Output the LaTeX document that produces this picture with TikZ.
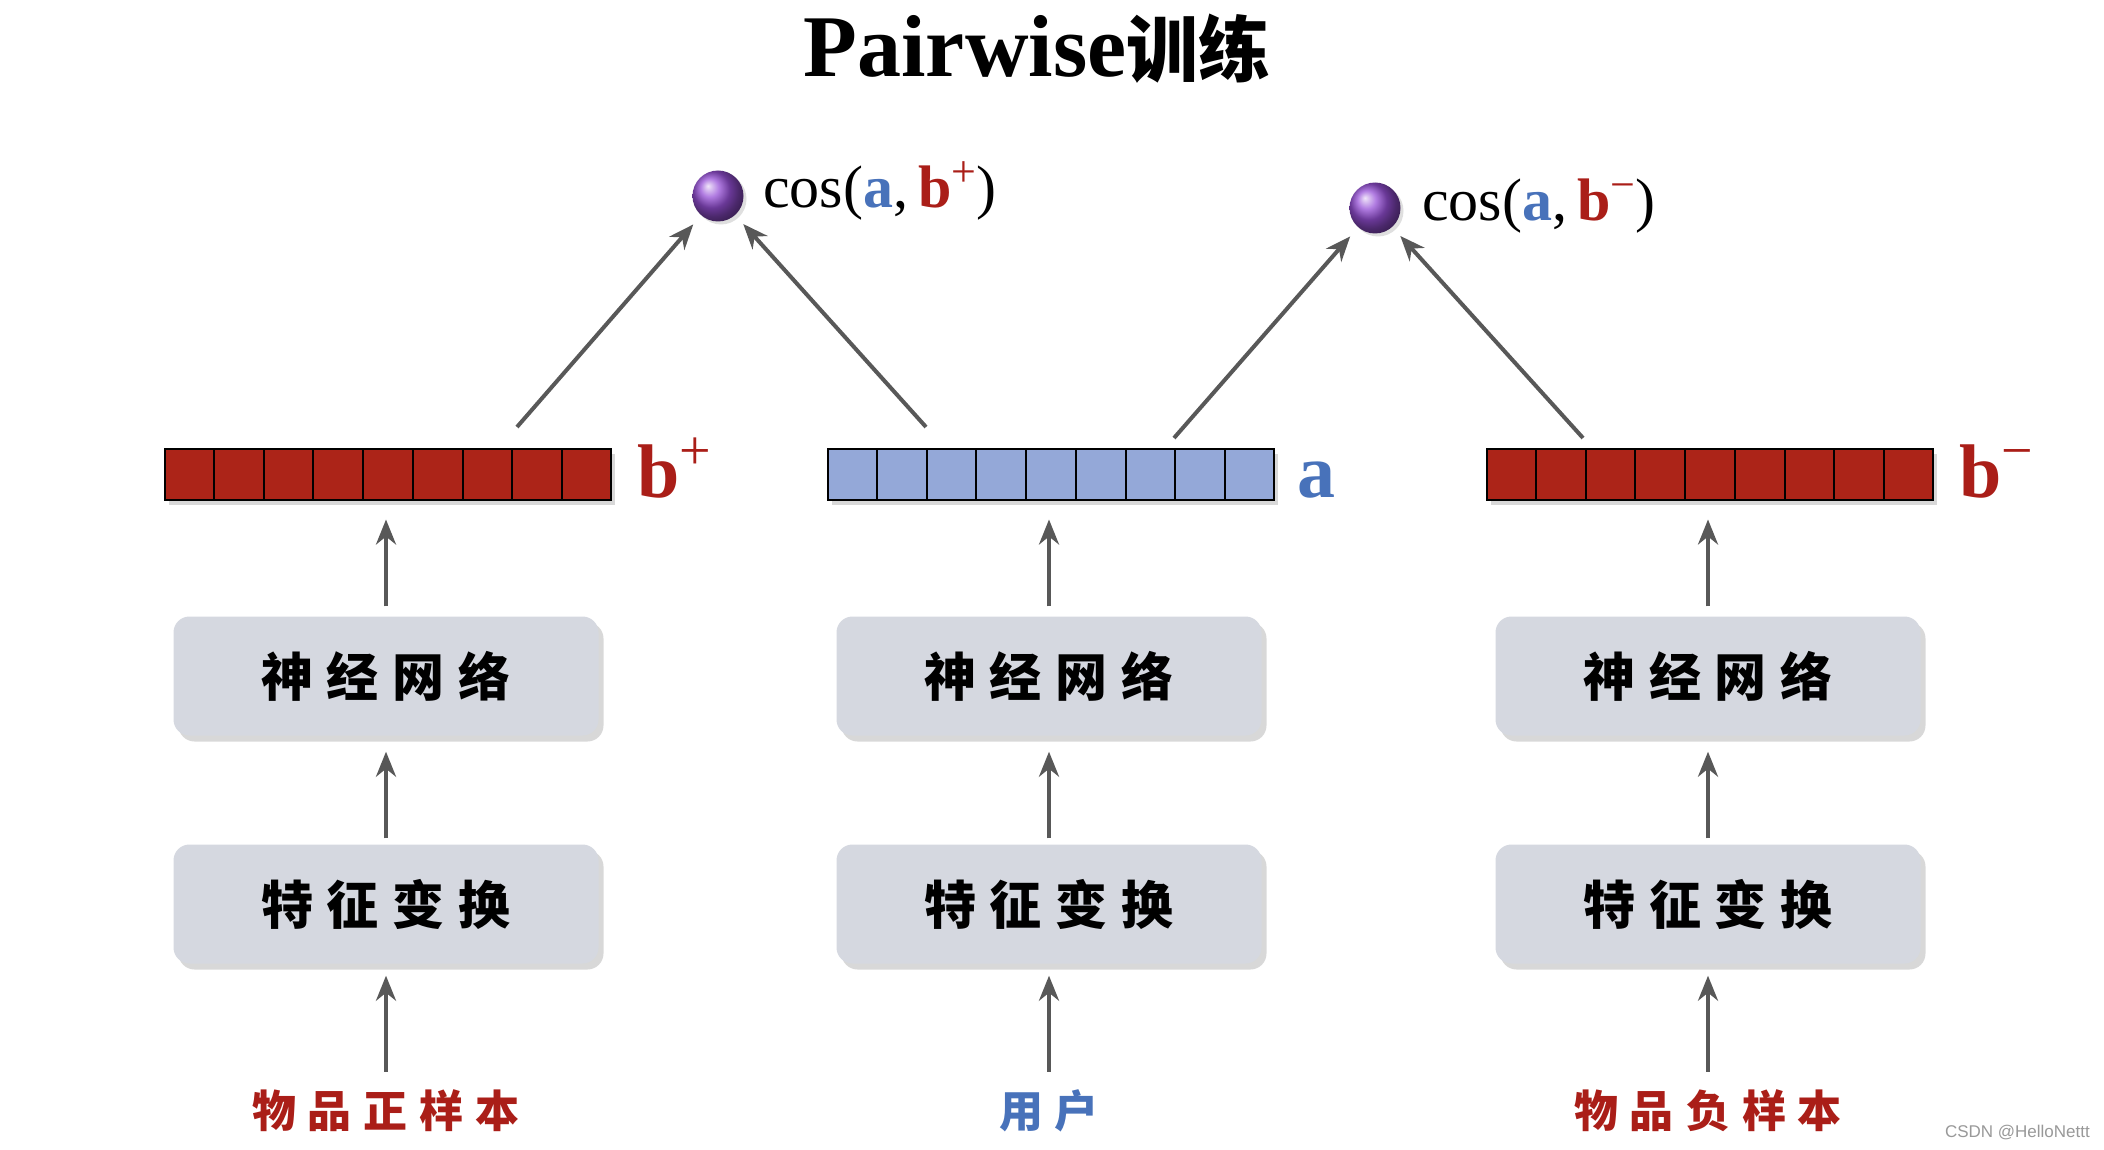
\documentclass[tikz,border=0pt]{standalone}
\usepackage{fontspec}
\setmainfont{Liberation Serif}
\newfontfamily\cjk{Noto Sans CJK SC}
\newfontfamily\wmfont{Liberation Sans}
\usetikzlibrary{shadows,arrows.meta,calc}
\definecolor{bred}{RGB}{172,36,24}
\definecolor{bblue}{RGB}{148,168,216}
\definecolor{tblue}{RGB}{72,114,186}
\definecolor{tred}{RGB}{170,30,24}
\definecolor{boxfill}{RGB}{213,216,224}
\definecolor{arrowgray}{RGB}{88,88,88}
\definecolor{ballpurple}{RGB}{150,80,215}
\newcommand\cgap{\hspace{14pt}}
\newcommand\lgap{\hspace{12pt}}
\begin{document}
\begin{tikzpicture}[x=1pt,y=-1pt,
  procbox/.style={draw=none, fill=boxfill, rounded corners=16pt, minimum width=425pt, minimum height=119pt, inner sep=0pt,
    drop shadow={opacity=0.3, shadow xshift=5pt, shadow yshift=-6pt},
    font=\cjk\bfseries\fontsize{52}{60}\selectfont},
  vecbar/.style={draw=black, line width=2pt, minimum width=446pt, minimum height=51pt, inner sep=0pt,
    drop shadow={opacity=0.3, shadow xshift=4pt, shadow yshift=-5pt}},
  arr/.style={draw=arrowgray, line width=4pt, -{Stealth[length=25pt,width=20pt,inset=8pt]}},
  ballnode/.style={circle, minimum size=51pt, inner sep=0pt, shading=ball, ball color=ballpurple,
    drop shadow={opacity=0.25, shadow xshift=3pt, shadow yshift=-3pt}},
  coslabel/.style={anchor=base west, inner sep=0pt, font=\fontsize{60}{66}\selectfont},
  barlabel/.style={anchor=base west, inner sep=0pt, font=\bfseries\fontsize{76}{80}\selectfont},
  inlabel/.style={inner sep=0pt, font=\cjk\bfseries\fontsize{44}{50}\selectfont},
]
\useasboundingbox (0,0) rectangle (2104,1150);
\fill[white] (0,0) rectangle (2104,1150);

% title
\node[anchor=base, inner sep=0pt, font=\bfseries\fontsize{88}{96}\selectfont] (title) at (1037,77)
  {Pairwise{\cjk\bfseries\fontsize{72}{80}\selectfont 训练}};

% vectors
\node[vecbar, fill=bred] (bp) at (388,474) {};
\node[vecbar, fill=bblue] (ua) at (1051,474) {};
\node[vecbar, fill=bred] (bn) at (1710,474) {};
\foreach \b in {bp,ua,bn}{
  \foreach \i in {1,...,8}
    \draw[line width=2pt] ($(\b.south west)!\i/9!(\b.south east)$) -- ($(\b.north west)!\i/9!(\b.north east)$);
}
\node[barlabel, text=tred] (lbp) at (637,497) {b\raisebox{0.36em}{\mdseries\fontsize{56}{60}\selectfont +}};
\node[barlabel, text=tblue] (lua) at (1297,497) {a};
\node[barlabel, text=tred] (lbn) at (1959,497) {b\raisebox{0.36em}{\mdseries\fontsize{56}{60}\selectfont −}};

% boxes
\node[procbox] (nn1) at (386,676) {神\cgap 经\cgap 网\cgap 络};
\node[procbox] (nn2) at (1049,676) {神\cgap 经\cgap 网\cgap 络};
\node[procbox] (nn3) at (1708,676) {神\cgap 经\cgap 网\cgap 络};
\node[procbox] (ft1) at (386,904) {特\cgap 征\cgap 变\cgap 换};
\node[procbox] (ft2) at (1049,904) {特\cgap 征\cgap 变\cgap 换};
\node[procbox] (ft3) at (1708,904) {特\cgap 征\cgap 变\cgap 换};

% inputs
\node[inlabel, text=tred] (in1) at (386,1111) {物\lgap 品\lgap 正\lgap 样\lgap 本};
\node[inlabel, text=tblue] (in2) at (1049,1111) {用\lgap 户};
\node[inlabel, text=tred] (in3) at (1708,1111) {物\lgap 品\lgap 负\lgap 样\lgap 本};

% balls and cos labels
\node[ballnode] (s1) at (718,196) {};
\node[ballnode] (s2) at (1375,208) {};
\node[coslabel] (c1) at (763,208) {cos(\textcolor{tblue}{\textbf{a}},\,\textcolor{tred}{\textbf{b}\raisebox{0.36em}{\fontsize{44}{48}\selectfont +}})};
\node[coslabel] (c2) at (1422,221) {cos(\textcolor{tblue}{\textbf{a}},\,\textcolor{tred}{\textbf{b}\raisebox{0.36em}{\fontsize{44}{48}\selectfont −}})};

% arrow start points on the vectors
\coordinate (p1) at (517,427);
\coordinate (p2) at (926,427);
\coordinate (p3) at (1174,438);
\coordinate (p4) at (1583,438);
\draw[arr, shorten >=12pt] (p1) -- (s1);
\draw[arr, shorten >=12pt] (p2) -- (s1);
\draw[arr, shorten >=12pt] (p3) -- (s2);
\draw[arr, shorten >=12pt] (p4) -- (s2);

% vertical arrows
\foreach \n/\b in {nn1/bp,nn2/ua,nn3/bn}
  \draw[arr, shorten <=10pt, shorten >=19pt] (\n.north) -- (\n.north |- \b.south);
\foreach \f/\n in {ft1/nn1,ft2/nn2,ft3/nn3}
  \draw[arr, shorten <=6pt, shorten >=16pt] (\f.north) -- (\n.south);
\foreach \i/\f in {in1/ft1,in2/ft2,in3/ft3}
  \draw[arr, shorten <=18pt, shorten >=12pt] (\i.north) -- (\i.north |- \f.south);

% watermark
\node[anchor=east, inner sep=0pt, text=black!40, font=\wmfont\fontsize{17}{20}\selectfont] (wm) at (2090,1133) {CSDN @HelloNettt};
\end{tikzpicture}
\end{document}
